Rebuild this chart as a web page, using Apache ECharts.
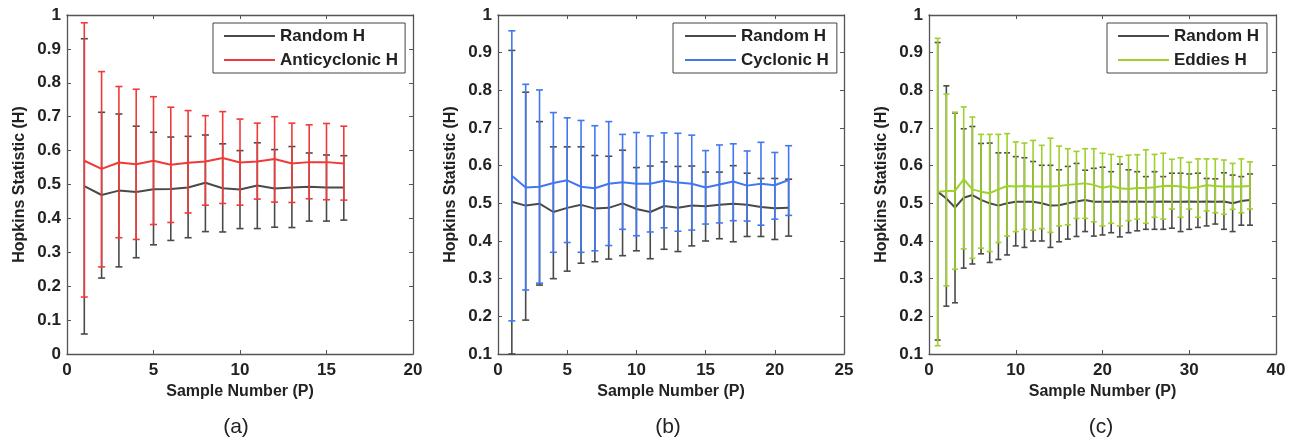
<!DOCTYPE html>
<html>
<head>
<meta charset="utf-8">
<script src="https://cdn.jsdelivr.net/npm/echarts@6/dist/echarts.min.js"></script>
<style>
html, body { margin: 0; padding: 0; background: #fff; }
#chart { width: 1293px; height: 441px; }
</style>
</head>
<body>
<div id="chart"></div>
<script>
// sample numbers
var samplesA = [1,2,3,4,5,6,7,8,9,10,11,12,13,14,15,16];
var samplesB = [1,2,3,4,5,6,7,8,9,10,11,12,13,14,15,16,17,18,19,20,21];
var samplesC = [1,2,3,4,5,6,7,8,9,10,11,12,13,14,15,16,17,18,19,20,21,22,23,24,25,26,27,28,29,30,31,32,33,34,35,36,37];

// (a) random vs anticyclonic
var randA = [0.495,0.469,0.482,0.478,0.486,0.487,0.491,0.505,0.489,0.485,0.497,0.488,0.491,0.493,0.491,0.491];
var randALow = [0.059,0.224,0.257,0.284,0.322,0.335,0.343,0.361,0.360,0.370,0.370,0.374,0.373,0.392,0.392,0.395];
var randAHigh = [0.930,0.713,0.708,0.672,0.654,0.640,0.642,0.646,0.620,0.600,0.623,0.603,0.612,0.593,0.587,0.585];
var antiA = [0.570,0.546,0.565,0.560,0.570,0.558,0.564,0.568,0.578,0.565,0.568,0.575,0.562,0.566,0.566,0.562];
var antiALow = [0.168,0.257,0.343,0.338,0.382,0.388,0.416,0.439,0.444,0.439,0.457,0.448,0.447,0.458,0.455,0.454];
var antiAHigh = [0.977,0.833,0.789,0.781,0.759,0.728,0.718,0.703,0.715,0.693,0.681,0.700,0.681,0.676,0.680,0.672];

// (b) random vs cyclonic
var randB = [0.504,0.494,0.499,0.477,0.488,0.496,0.486,0.488,0.500,0.485,0.477,0.493,0.488,0.494,0.492,0.496,0.499,0.496,0.490,0.487,0.488];
var randBLow = [0.100,0.190,0.283,0.300,0.320,0.341,0.345,0.352,0.361,0.374,0.353,0.378,0.372,0.387,0.400,0.406,0.398,0.412,0.412,0.404,0.413];
var randBHigh = [0.906,0.795,0.717,0.650,0.650,0.650,0.627,0.625,0.641,0.595,0.599,0.610,0.598,0.599,0.583,0.583,0.600,0.580,0.566,0.566,0.564];
var cycB = [0.573,0.542,0.544,0.554,0.561,0.544,0.540,0.552,0.556,0.552,0.552,0.560,0.555,0.552,0.542,0.550,0.558,0.547,0.552,0.548,0.562];
var cycBLow = [0.188,0.270,0.288,0.370,0.396,0.370,0.374,0.388,0.431,0.414,0.424,0.435,0.426,0.429,0.445,0.448,0.454,0.453,0.442,0.458,0.468];
var cycBHigh = [0.958,0.816,0.801,0.741,0.727,0.720,0.706,0.717,0.683,0.688,0.679,0.687,0.686,0.681,0.640,0.655,0.658,0.639,0.662,0.635,0.653];

// (c) random vs eddies
var randC = [0.531,0.513,0.489,0.515,0.522,0.509,0.500,0.494,0.500,0.504,0.504,0.504,0.500,0.494,0.495,0.500,0.505,0.509,0.504,0.504,
             0.504,0.505,0.504,0.505,0.504,0.504,0.505,0.504,0.504,0.505,0.504,0.505,0.504,0.505,0.500,0.506,0.509];
var randCLow = [0.137,0.227,0.236,0.328,0.339,0.366,0.343,0.351,0.363,0.387,0.383,0.400,0.400,0.383,0.398,0.405,0.412,0.425,0.413,0.416,
                0.422,0.411,0.422,0.427,0.431,0.431,0.431,0.434,0.425,0.431,0.436,0.440,0.445,0.431,0.425,0.442,0.442];
var randCHigh = [0.927,0.812,0.740,0.698,0.704,0.659,0.660,0.634,0.634,0.624,0.621,0.611,0.601,0.601,0.589,0.598,0.606,0.588,0.593,0.596,
                 0.584,0.604,0.589,0.584,0.571,0.584,0.571,0.580,0.580,0.578,0.580,0.566,0.565,0.581,0.575,0.571,0.578];
var eddyC = [0.531,0.533,0.533,0.564,0.537,0.531,0.527,0.537,0.546,0.545,0.546,0.545,0.545,0.545,0.546,0.549,0.551,0.553,0.549,0.541,
             0.546,0.540,0.538,0.541,0.541,0.543,0.546,0.547,0.545,0.541,0.543,0.548,0.546,0.545,0.545,0.545,0.546];
var eddyCLow = [0.122,0.281,0.325,0.379,0.354,0.381,0.372,0.396,0.413,0.425,0.431,0.429,0.433,0.423,0.440,0.443,0.460,0.460,0.451,0.440,
                0.447,0.440,0.454,0.458,0.447,0.463,0.458,0.485,0.463,0.485,0.463,0.480,0.475,0.471,0.484,0.475,0.485];
var eddyCHigh = [0.938,0.790,0.742,0.756,0.729,0.683,0.683,0.683,0.685,0.663,0.660,0.667,0.654,0.673,0.652,0.645,0.638,0.645,0.645,0.633,
                 0.630,0.624,0.628,0.629,0.642,0.630,0.633,0.617,0.621,0.609,0.618,0.618,0.618,0.615,0.606,0.618,0.610];

var FONT = '"Liberation Sans", Arial, sans-serif';
var GRAY = '#4a4a4a';

function pairs(xs, ys) {
	var out = [];
	for (var i = 0; i < xs.length; i++) out.push([xs[i], ys[i]]);
	return out;
}
function triples(xs, lo, hi) {
	var out = [];
	for (var i = 0; i < xs.length; i++) out.push([xs[i], lo[i], hi[i]]);
	return out;
}

// error bar: vertical line plus two caps
function errorBar(cap) {
	return function (params, api) {
		var x = api.value(0);
		var lo = api.coord([x, api.value(1)]);
		var hi = api.coord([x, api.value(2)]);
		var st = { stroke: api.visual('color'), lineWidth: 1.6 };
		return {
			type: 'group',
			children: [
				{ type: 'line', shape: { x1: lo[0], y1: lo[1], x2: hi[0], y2: hi[1] }, style: st },
				{ type: 'line', shape: { x1: lo[0] - cap, y1: lo[1], x2: lo[0] + cap, y2: lo[1] }, style: st },
				{ type: 'line', shape: { x1: hi[0] - cap, y1: hi[1], x2: hi[0] + cap, y2: hi[1] }, style: st }
			]
		};
	};
}

var grids = [
	{ left: 67, top: 15, width: 346, height: 339 },
	{ left: 498, top: 15, width: 346, height: 339 },
	{ left: 929, top: 15, width: 347, height: 339 }
];
var xRanges = [[0, 20, 5], [0, 25, 5], [0, 40, 10]];
var yRanges = [[0, 1], [0.1, 1], [0.1, 1]];

var xAxes = [], yAxes = [];
for (var g = 0; g < 3; g++) {
	var tick = { show: true, inside: true, length: 4, lineStyle: { color: '#555', width: 1 } };
	var line = { show: true, onZero: false, lineStyle: { color: '#555', width: 1.3 } };
	xAxes.push({
		gridIndex: g, type: 'value', position: 'bottom',
		min: xRanges[g][0], max: xRanges[g][1], interval: xRanges[g][2],
		axisLine: line, axisTick: tick, splitLine: { show: false },
		axisLabel: { color: '#222', fontFamily: FONT, fontSize: 17, fontWeight: 'bold', margin: 8 },
		name: 'Sample Number (P)', nameLocation: 'middle', nameGap: 29,
		nameTextStyle: { color: '#222', fontFamily: FONT, fontSize: 16, fontWeight: 'bold' }
	});
	xAxes.push({
		gridIndex: g, type: 'value', position: 'top',
		min: xRanges[g][0], max: xRanges[g][1], interval: xRanges[g][2],
		axisLine: line, axisTick: tick, splitLine: { show: false }, axisLabel: { show: false }
	});
	yAxes.push({
		gridIndex: g, type: 'value', position: 'left',
		min: yRanges[g][0], max: yRanges[g][1], interval: 0.1,
		axisLine: line, axisTick: tick, splitLine: { show: false },
		axisLabel: {
			color: '#222', fontFamily: FONT, fontSize: 17, fontWeight: 'bold', margin: 6,
			formatter: function (v) { return String(+v.toFixed(1)); }
		},
		name: 'Hopkins Statistic (H)', nameLocation: 'middle', nameGap: 39,
		nameTextStyle: { color: '#222', fontFamily: FONT, fontSize: 16, fontWeight: 'bold' }
	});
	yAxes.push({
		gridIndex: g, type: 'value', position: 'right',
		min: yRanges[g][0], max: yRanges[g][1], interval: 0.1,
		axisLine: line, axisTick: tick, splitLine: { show: false }, axisLabel: { show: false }
	});
}

var panels = [
	{ xs: samplesA, rand: randA, rLo: randALow, rHi: randAHigh, name: 'Anticyclonic H', color: '#f03a3a', val: antiA, lo: antiALow, hi: antiAHigh, cap: 3.5 },
	{ xs: samplesB, rand: randB, rLo: randBLow, rHi: randBHigh, name: 'Cyclonic H', color: '#4277f2', val: cycB, lo: cycBLow, hi: cycBHigh, cap: 3.5 },
	{ xs: samplesC, rand: randC, rLo: randCLow, rHi: randCHigh, name: 'Eddies H', color: '#9fd12c', val: eddyC, lo: eddyCLow, hi: eddyCHigh, cap: 3 }
];

var series = [];
for (var p = 0; p < 3; p++) {
	var d = panels[p];
	series.push({
		type: 'custom', name: 'Random H', xAxisIndex: 2 * p, yAxisIndex: 2 * p, z: 2,
		itemStyle: { color: GRAY }, renderItem: errorBar(d.cap),
		encode: { x: 0, y: [1, 2] }, data: triples(d.xs, d.rLo, d.rHi)
	});
	series.push({
		type: 'line', name: 'Random H', xAxisIndex: 2 * p, yAxisIndex: 2 * p, z: 3,
		showSymbol: false, symbol: 'none', color: GRAY,
		lineStyle: { color: GRAY, width: 2 }, data: pairs(d.xs, d.rand)
	});
	series.push({
		type: 'custom', name: d.name, xAxisIndex: 2 * p, yAxisIndex: 2 * p, z: 4,
		itemStyle: { color: d.color }, renderItem: errorBar(d.cap),
		encode: { x: 0, y: [1, 2] }, data: triples(d.xs, d.lo, d.hi)
	});
	series.push({
		type: 'line', name: d.name, xAxisIndex: 2 * p, yAxisIndex: 2 * p, z: 5,
		showSymbol: false, symbol: 'none', color: d.color,
		lineStyle: { color: d.color, width: 2 }, data: pairs(d.xs, d.val)
	});
}

var legendPos = [
	{ left: 213, padding: [3, 7, 3, 11] },
	{ left: 673, padding: [3, 8, 3, 12] },
	{ left: 1107, padding: [3, 8, 3, 11] }
];
var legends = [];
for (var k = 0; k < 3; k++) {
	legends.push({
		orient: 'vertical', left: legendPos[k].left, top: 23, padding: legendPos[k].padding,
		backgroundColor: '#fff', borderColor: '#444', borderWidth: 1, borderRadius: 0,
		itemWidth: 51, itemHeight: 2, itemGap: 4, icon: 'rect', selectedMode: false,
		textStyle: { color: '#222', fontFamily: FONT, fontSize: 17, fontWeight: 'bold', lineHeight: 20 },
		data: [
			{ name: 'Random H', itemStyle: { color: GRAY } },
			{ name: panels[k].name, itemStyle: { color: panels[k].color } }
		]
	});
}

var captions = ['(a)', '(b)', '(c)'];
var captionX = [236, 668, 1101];
var graphics = [];
for (var c = 0; c < 3; c++) {
	graphics.push({
		type: 'text', x: captionX[c], y: 427,
		style: { text: captions[c], fill: '#222', font: '21px ' + FONT, align: 'center', verticalAlign: 'middle' }
	});
}

var myChart = echarts.init(document.getElementById('chart'), null, { renderer: 'canvas' });
myChart.setOption({
	animation: false,
	backgroundColor: '#fff',
	grid: grids,
	xAxis: xAxes,
	yAxis: yAxes,
	legend: legends,
	tooltip: { show: false },
	graphic: graphics,
	series: series
});
</script>
</body>
</html>
